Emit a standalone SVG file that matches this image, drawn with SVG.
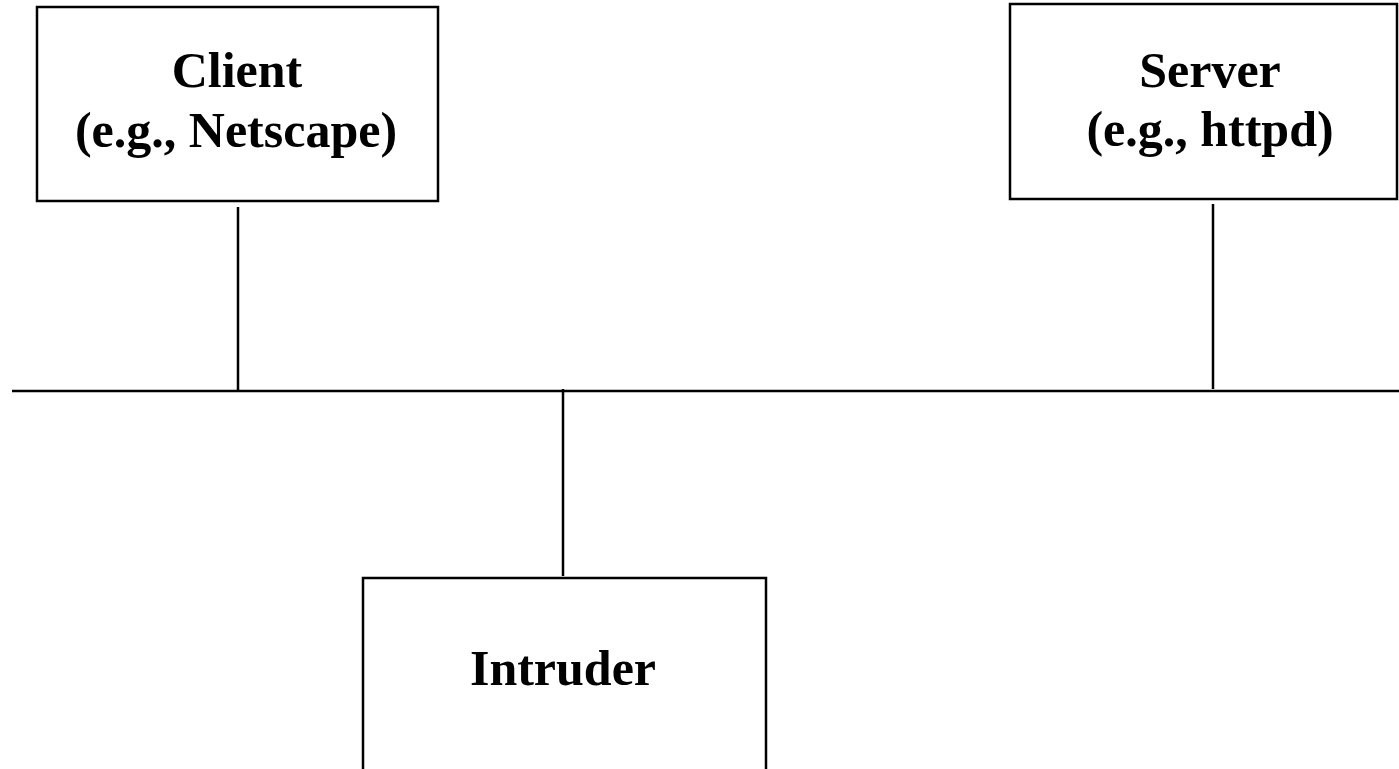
<svg xmlns="http://www.w3.org/2000/svg" width="1399" height="769" viewBox="0 0 1399 769">
<style>
.box{fill:#fff;stroke:#000;stroke-width:2.5}
.ln{stroke:#000;stroke-width:2.5;fill:none}
.t{font-family:"Liberation Serif","Times New Roman",serif;font-weight:bold;font-size:50px;text-anchor:middle;fill:#000}
</style>
<rect width="1399" height="769" fill="#fff"/>
<g id="connectors">
<line class="ln" x1="12" y1="391" x2="1399" y2="391"/>
<line class="ln" x1="238" y1="207" x2="238" y2="391"/>
<line class="ln" x1="1213" y1="204" x2="1213" y2="389"/>
<line class="ln" x1="563" y1="389" x2="563" y2="576"/>
</g>
<g id="client">
<rect class="box" x="37" y="7" width="401" height="194"/>
<text class="t" x="237" y="87">Client</text>
<text class="t" x="236" y="147">(e.g., Netscape)</text>
</g>
<g id="server">
<rect class="box" x="1010" y="4" width="387" height="195"/>
<text class="t" x="1210" y="87">Server</text>
<text class="t" x="1210" y="146">(e.g., httpd)</text>
</g>
<g id="intruder">
<rect class="box" x="363" y="578" width="403" height="200"/>
<text class="t" x="563" y="685">Intruder</text>
</g>
</svg>
